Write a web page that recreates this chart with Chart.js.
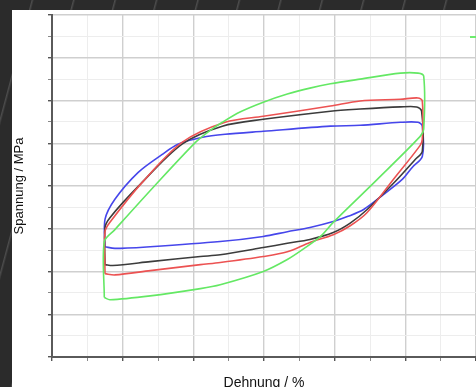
<!DOCTYPE html>
<html>
<head>
<meta charset="utf-8">
<script src="https://cdn.jsdelivr.net/npm/chart.js@4"></script>
<style>
html, body { margin: 0; padding: 0; }
body {
    width: 476px; height: 387px; overflow: hidden; position: relative;
    background: repeating-linear-gradient(105deg, #2b2b2b 0px, #2b2b2b 30px, #4d4d4d 31px, #2b2b2b 33px, #2b2b2b 40px);
}
#panel { position: absolute; left: 12px; top: 10px; width: 464px; height: 395px; background: #fff; }
</style>
</head>
<body>
<div id="panel"><canvas id="myChart" width="464" height="395"></canvas></div>
<script>
"use strict";

// Dehnung (x) und Spannung (y) je Kurve
const greenX = [0.74, 0.74, 0.89, 1.45, 2.03, 2.22, 2.41, 2.66, 2.99, 3.33, 3.65, 3.94, 4.36, 4.93, 5.18, 5.26, 5.26, 5.21, 4.60, 3.98, 3.80, 3.56, 3.33, 2.99, 2.38, 2.10, 1.39, 0.82, 0.74];
const greenY = [1.39, 2.70, 2.98, 4.00, 5.02, 5.28, 5.49, 5.73, 5.96, 6.15, 6.29, 6.39, 6.50, 6.64, 6.64, 6.57, 5.33, 5.16, 4.15, 3.15, 2.82, 2.53, 2.28, 2.00, 1.69, 1.60, 1.43, 1.34, 1.39];

const redX = [0.75, 0.75, 0.82, 1.28, 1.84, 2.45, 2.99, 3.94, 4.36, 4.93, 5.18, 5.24, 5.24, 5.21, 4.83, 4.46, 4.22, 3.98, 3.65, 3.33, 2.99, 2.38, 2.10, 1.39, 0.89, 0.75];
const redY = [1.95, 2.93, 3.15, 4.09, 5.02, 5.49, 5.63, 5.87, 5.99, 6.03, 6.06, 5.99, 5.09, 4.95, 4.15, 3.38, 3.07, 2.86, 2.68, 2.46, 2.35, 2.21, 2.16, 2.02, 1.92, 1.95];

const blackX = [0.75, 0.75, 0.82, 1.22, 1.84, 2.41, 2.99, 3.94, 4.36, 4.93, 5.16, 5.23, 5.24, 5.14, 4.86, 4.46, 4.22, 3.98, 3.65, 3.33, 2.99, 2.38, 2.10, 1.39, 0.86, 0.75];
const blackY = [2.16, 3.03, 3.26, 3.99, 4.98, 5.40, 5.56, 5.75, 5.80, 5.85, 5.85, 5.75, 4.81, 4.62, 4.11, 3.45, 3.13, 2.91, 2.75, 2.66, 2.56, 2.39, 2.35, 2.23, 2.14, 2.16];

const blueX = [0.75, 0.75, 0.89, 1.22, 1.56, 1.79, 2.13, 2.45, 2.99, 3.94, 4.36, 4.93, 5.18, 5.24, 5.24, 5.10, 4.96, 4.69, 4.41, 4.19, 3.98, 3.65, 3.33, 2.99, 2.38, 1.39, 0.89, 0.75];
const blueY = [2.58, 3.22, 3.69, 4.32, 4.74, 4.98, 5.14, 5.21, 5.28, 5.40, 5.42, 5.49, 5.49, 5.40, 4.69, 4.44, 4.16, 3.80, 3.45, 3.29, 3.17, 3.03, 2.93, 2.82, 2.70, 2.58, 2.54, 2.58];

const xTicks = [0, 1, 2, 3, 4, 5, 6];
const yTicks = [0, 1, 2, 3, 4, 5, 6, 7, 8];

function toPoints (xs, ys) {
    return xs.map((x, i) => ({ x: x, y: ys[i] }));
}

function loop (label, xs, ys, color) {
    return {
        label: label,
        data: toPoints(xs, ys),
        showLine: true,
        borderColor: color,
        borderWidth: 1.6,
        pointRadius: 0,
        tension: 0.3,
        fill: false
    };
}

const isMajor = v => Math.abs(v - Math.round(v)) < 1e-6;

// kleines Legendenstück oben rechts
const legendStub = {
    id: 'legendStub',
    afterDraw (chart) {
        const c = chart.ctx;
        c.save();
        c.strokeStyle = 'rgb(110,235,110)';
        c.lineWidth = 2;
        c.beginPath();
        c.moveTo(458, 27);
        c.lineTo(466, 27);
        c.stroke();
        c.restore();
    }
};

new Chart(document.getElementById('myChart'), {
    type: 'scatter',
    data: {
        datasets: [
            loop('Zyklus 1', greenX, greenY, 'rgb(100,232,100)'),
            loop('Zyklus 2', redX, redY, 'rgb(236,82,82)'),
            loop('Zyklus 3', blackX, blackY, 'rgb(60,60,60)'),
            loop('Zyklus 4', blueX, blueY, 'rgb(70,70,235)')
        ]
    },
    options: {
        responsive: false,
        animation: false,
        layout: { padding: { top: 5, right: 0, left: 0, bottom: 0 } },
        plugins: { legend: { display: false }, tooltip: { enabled: false } },
        scales: {
            x: {
                type: 'linear',
                min: xTicks[0],
                max: xTicks[xTicks.length - 1],
                afterFit: s => { s.height = 48; },
                ticks: { display: false, stepSize: 0.5 },
                grid: {
                    color: c => isMajor(c.tick.value) ? '#cfcfcf' : '#ededed',
                    lineWidth: c => isMajor(c.tick.value) ? 1.4 : 1,
                    tickColor: c => isMajor(c.tick.value) ? '#555' : '#888',
                    tickLength: 4
                },
                border: { color: '#5a5a5a', width: 2 },
                title: {
                    display: true,
                    text: 'Dehnung / %',
                    color: '#111',
                    font: { family: 'Liberation Sans, Arial, sans-serif', size: 14 },
                    padding: { top: 13, bottom: 13 }
                }
            },
            y: {
                type: 'linear',
                min: yTicks[0],
                max: yTicks[yTicks.length - 1],
                afterFit: s => { s.width = 40; },
                ticks: { display: false, stepSize: 0.5 },
                grid: {
                    color: c => isMajor(c.tick.value) ? '#cfcfcf' : '#ededed',
                    lineWidth: c => isMajor(c.tick.value) ? 1.4 : 1,
                    tickColor: c => isMajor(c.tick.value) ? '#555' : '#888',
                    tickLength: 4
                },
                border: { color: '#5a5a5a', width: 2 },
                title: {
                    display: true,
                    text: 'Spannung / MPa',
                    color: '#111',
                    font: { family: 'Liberation Sans, Arial, sans-serif', size: 13 },
                    padding: 0
                }
            }
        }
    },
    plugins: [legendStub]
});
</script>
</body>
</html>
